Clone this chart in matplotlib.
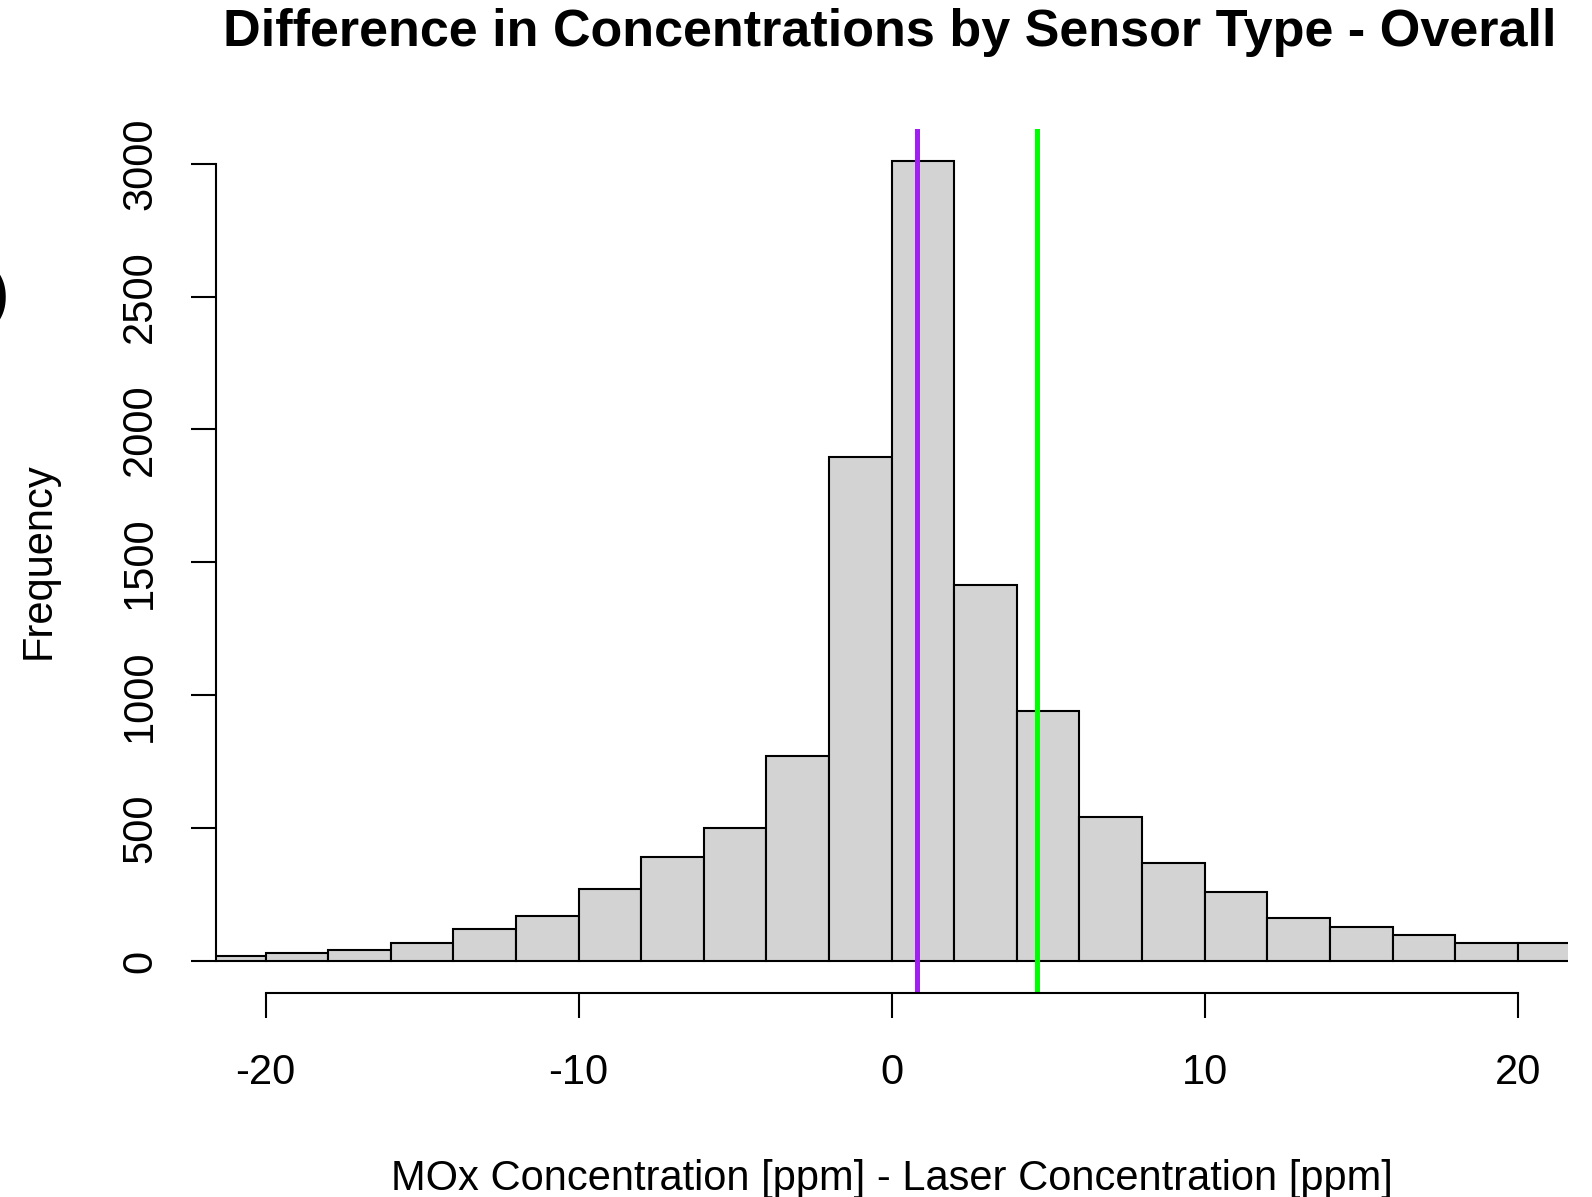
import numpy as np
import matplotlib
matplotlib.use("Agg")
import matplotlib.pyplot as plt

plt.rcParams['font.family'] = ['Liberation Sans', 'DejaVu Sans']

# histogram bins (width 2 ppm) and counts
bin_edges = np.arange(-22, 24, 2)
counts = [19, 29, 41, 69, 119, 169, 271, 390, 502, 773, 1897,
          3010, 1416, 941, 543, 370, 261, 161, 129, 98, 69, 69]
purple_line = 0.82
green_line = 4.65
x_ticks = [-20, -10, 0, 10, 20]
y_ticks = [0, 500, 1000, 1500, 2000, 2500, 3000]

fig = plt.figure(figsize=(15.92, 11.97), dpi=100)
ax = fig.add_axes([0.1354, 0.1704, 0.8494, 0.7218])

ax.bar(bin_edges[:-1], counts, width=2, align='edge',
       color='#D3D3D3', edgecolor='black', linewidth=1.5)
ax.axvline(purple_line, color='#A020F0', linewidth=3.6)
ax.axvline(green_line, color='#00FF00', linewidth=3.6)

# R style: 4% padding around xlim=c(-20,20) and ylim=c(0,max)
ax.set_xlim(-21.6, 21.6)
ymax = max(counts)
ax.set_ylim(-0.04 * ymax, 1.04 * ymax)

for s in ['top', 'right']:
    ax.spines[s].set_visible(False)
ax.spines['left'].set_bounds(0, 3000)
ax.spines['bottom'].set_bounds(-20, 20)
ax.spines['left'].set_linewidth(1.5)
ax.spines['bottom'].set_linewidth(1.5)

ax.set_xticks(x_ticks)
ax.set_xticklabels([str(v) for v in x_ticks], fontsize=30)
ax.set_yticks(y_ticks)
ax.set_yticklabels([str(v) for v in y_ticks], fontsize=30, rotation=90, va='center')
ax.tick_params(axis='both', direction='out', length=18, width=1.5)
ax.tick_params(axis='x', pad=25)
ax.tick_params(axis='y', pad=22)

ax.set_xlabel('MOx Concentration [ppm] - Laser Concentration [ppm]', fontsize=30, labelpad=48)
ax.set_ylabel('Frequency', fontsize=30, labelpad=44)
fig.text(0.5586, 0.973, 'Difference in Concentrations by Sensor Type - Overall',
         fontsize=37.5, fontweight='bold', ha='center', va='center')

# clipped piece of a neighbouring panel at the left edge
fig.text(0.005, 0.752, ')', fontsize=40, ha='right', va='center', fontweight='bold')

fig.savefig('out.png', dpi=100)
